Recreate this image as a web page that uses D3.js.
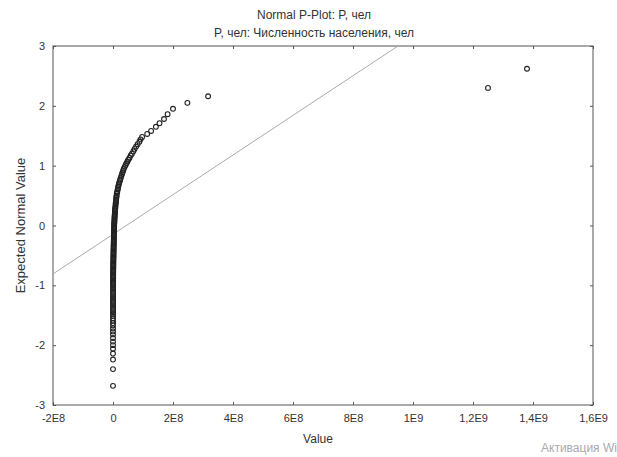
<!DOCTYPE html>
<html>
<head>
<meta charset="utf-8">
<script src="https://cdn.jsdelivr.net/npm/d3@7/dist/d3.min.js"></script>
<style>
  body { margin: 0; background: #fff; }
  text { font-family: "Liberation Sans", Arial, sans-serif; fill: #333; }
</style>
</head>
<body>
<div id="chart"></div>
<script>
// Chart data
var titleLines = ["Normal P-Plot: P, чел", "P, чел: Численность населения, чел"];
var xTickValues = [-2e8, 0, 2e8, 4e8, 6e8, 8e8, 1e9, 1.2e9, 1.4e9, 1.6e9];
var xTickLabels = ["-2E8", "0", "2E8", "4E8", "6E8", "8E8", "1E9", "1,2E9", "1,4E9", "1,6E9"];
var yTickValues = [-3, -2, -1, 0, 1, 2, 3];
var yTickLabels = ["-3", "-2", "-1", "0", "1", "2", "3"];

// population, millions of people (one row per row of expectedNormal)
var popMln = [
    1380, 1250, 317, 248, 200, 182, 170, 155, 143, 127,
    114, 97, 92, 88, 82, 77, 72, 68, 63, 59,
    55, 51, 48, 45, 42, 39, 36, 34, 32, 30,
    28, 26, 24, 23, 21, 20, 18.5, 17.5, 16.5, 15.5,
    14.5, 13.5, 12.5, 12, 11.5, 11, 10.5, 10, 9.5, 9,
    8.6, 8.2, 7.8, 7.4, 7, 6.7, 6.4, 6.1, 5.8, 5.5,
    5.3, 5.1, 4.9, 4.7, 4.5, 4.3, 4.1, 3.9, 3.8, 3.7,
    3.6, 3.5, 3.4, 3.3, 3.2, 3.1, 3.0, 2.9, 2.8, 2.7,
    2.6, 2.5, 2.4, 2.3, 2.2, 2.1, 2.0, 1.9, 1.85, 1.8,
    1.7, 1.6, 1.55, 1.5, 1.4, 1.3, 1.25, 1.2, 1.1, 1.05,
    1.0, 0.95, 0.9, 0.85, 0.8, 0.75, 0.7, 0.66, 0.62, 0.58,
    0.55, 0.52, 0.49, 0.46, 0.43, 0.4, 0.38, 0.36, 0.33, 0.3,
    0.28, 0.26, 0.24, 0.22, 0.2, 0.18, 0.17, 0.16, 0.15, 0.14,
    0.13, 0.12, 0.11, 0.1, 0.09, 0.08, 0.07, 0.06, 0.055, 0.05,
    0.045, 0.04, 0.035, 0.03, 0.025, 0.02, 0.015, 0.012, 0.008, 0.004
];
var expectedNormal = [
    2.62, 2.30, 2.16, 2.05, 1.95, 1.86, 1.78, 1.71, 1.65, 1.58,
    1.53, 1.48, 1.44, 1.40, 1.36, 1.32, 1.28, 1.24, 1.20, 1.17,
    1.13, 1.10, 1.07, 1.04, 1.01, 0.98, 0.95, 0.92, 0.89, 0.86,
    0.83, 0.80, 0.77, 0.75, 0.72, 0.70, 0.67, 0.65, 0.62, 0.60,
    0.57, 0.55, 0.53, 0.50, 0.48, 0.46, 0.43, 0.41, 0.39, 0.37,
    0.35, 0.32, 0.30, 0.28, 0.26, 0.24, 0.22, 0.20, 0.18, 0.16,
    0.14, 0.12, 0.10, 0.08, 0.06, 0.04, 0.02, 0.00, -0.02, -0.04,
    -0.06, -0.08, -0.10, -0.12, -0.14, -0.16, -0.18, -0.20, -0.22, -0.24,
    -0.26, -0.28, -0.30, -0.32, -0.34, -0.36, -0.38, -0.40, -0.42, -0.44,
    -0.46, -0.48, -0.50, -0.52, -0.54, -0.56, -0.58, -0.60, -0.62, -0.64,
    -0.66, -0.68, -0.70, -0.72, -0.74, -0.76, -0.78, -0.80, -0.82, -0.84,
    -0.86, -0.88, -0.90, -0.92, -0.94, -0.96, -0.98, -1.00, -1.03, -1.06,
    -1.09, -1.12, -1.15, -1.18, -1.21, -1.24, -1.27, -1.30, -1.33, -1.36,
    -1.39, -1.42, -1.45, -1.48, -1.51, -1.55, -1.59, -1.63, -1.67, -1.72,
    -1.77, -1.82, -1.88, -1.94, -2.00, -2.06, -2.14, -2.24, -2.40, -2.68
];

// reference normal line, two ends
var lineX = [-2e8, 9.5e8];
var lineY = [-0.81, 3];

var width = 617, height = 457;
var plot = { left: 53, top: 46, right: 593, bottom: 405 };

var svg = d3.select("#chart")
    .append("svg")
    .attr("width", width)
    .attr("height", height);

var xScale = d3.scaleLinear()
    .domain([-2e8, 1.6e9])
    .range([plot.left, plot.right]);

var yScale = d3.scaleLinear()
    .domain([-3, 3])
    .range([plot.bottom, plot.top]);

// Titles
svg.selectAll(".title")
    .data(titleLines)
    .enter()
    .append("text")
    .attr("class", "title")
    .attr("x", 314)
    .attr("y", function(d, i) { return 19 + i * 18; })
    .attr("text-anchor", "middle")
    .attr("font-size", "12px")
    .text(function(d) { return d; });

svg.append("clipPath")
    .attr("id", "plotClip")
    .append("rect")
    .attr("x", plot.left)
    .attr("y", plot.top)
    .attr("width", plot.right - plot.left)
    .attr("height", plot.bottom - plot.top);

// Axes, ticks pointing inwards
var xAxis = d3.axisBottom(xScale)
    .tickValues(xTickValues)
    .tickSize(-3)
    .tickPadding(9)
    .tickFormat(function(d, i) { return xTickLabels[i]; });

var yAxis = d3.axisLeft(yScale)
    .tickValues(yTickValues)
    .tickSize(-3)
    .tickPadding(8)
    .tickFormat(function(d, i) { return yTickLabels[i]; });

svg.append("g")
    .attr("transform", "translate(0," + plot.bottom + ")")
    .call(xAxis);

svg.append("g")
    .attr("transform", "translate(" + plot.left + ",0)")
    .call(yAxis);

svg.append("g")
    .attr("transform", "translate(0," + plot.top + ")")
    .call(d3.axisTop(xScale).tickValues(xTickValues).tickSize(-3).tickFormat(""));

svg.append("g")
    .attr("transform", "translate(" + plot.right + ",0)")
    .call(d3.axisRight(yScale).tickValues(yTickValues).tickSize(-3).tickFormat(""));

svg.selectAll(".domain").remove();
svg.selectAll(".tick line").attr("stroke", "#555");
svg.selectAll(".tick text")
    .attr("font-size", "11px")
    .attr("font-family", "Liberation Sans, Arial, sans-serif")
    .attr("fill", "#333");

// Frame
svg.append("rect")
    .attr("x", plot.left)
    .attr("y", plot.top)
    .attr("width", plot.right - plot.left)
    .attr("height", plot.bottom - plot.top)
    .attr("fill", "none")
    .attr("stroke", "#555")
    .attr("stroke-width", 1);

// Normal line
svg.append("line")
    .attr("clip-path", "url(#plotClip)")
    .attr("x1", xScale(lineX[0]))
    .attr("y1", yScale(lineY[0]))
    .attr("x2", xScale(lineX[1]))
    .attr("y2", yScale(lineY[1]))
    .attr("stroke", "#aaa")
    .attr("stroke-width", 1);

// Points
var points = popMln.map(function(d, i) {
    return { value: d * 1e6, expected: expectedNormal[i] };
});

svg.append("g")
    .selectAll("circle")
    .data(points)
    .enter()
    .append("circle")
    .attr("cx", function(d) { return xScale(d.value); })
    .attr("cy", function(d) { return yScale(d.expected); })
    .attr("r", 2.4)
    .attr("fill", "none")
    .attr("stroke", "#222")
    .attr("stroke-width", 1.1);

// Axis titles
svg.append("text")
    .attr("x", 318)
    .attr("y", 443)
    .attr("text-anchor", "middle")
    .attr("font-size", "12px")
    .text("Value");

svg.append("text")
    .attr("transform", "translate(25," + (plot.top + plot.bottom) / 2 + ") rotate(-90)")
    .attr("text-anchor", "middle")
    .attr("font-size", "13px")
    .text("Expected Normal Value");

// Windows watermark in the corner of the screenshot
svg.append("text")
    .attr("x", 541)
    .attr("y", 452)
    .attr("font-size", "12px")
    .style("fill", "#aaa")
    .text("Активация Wi");
</script>
</body>
</html>
